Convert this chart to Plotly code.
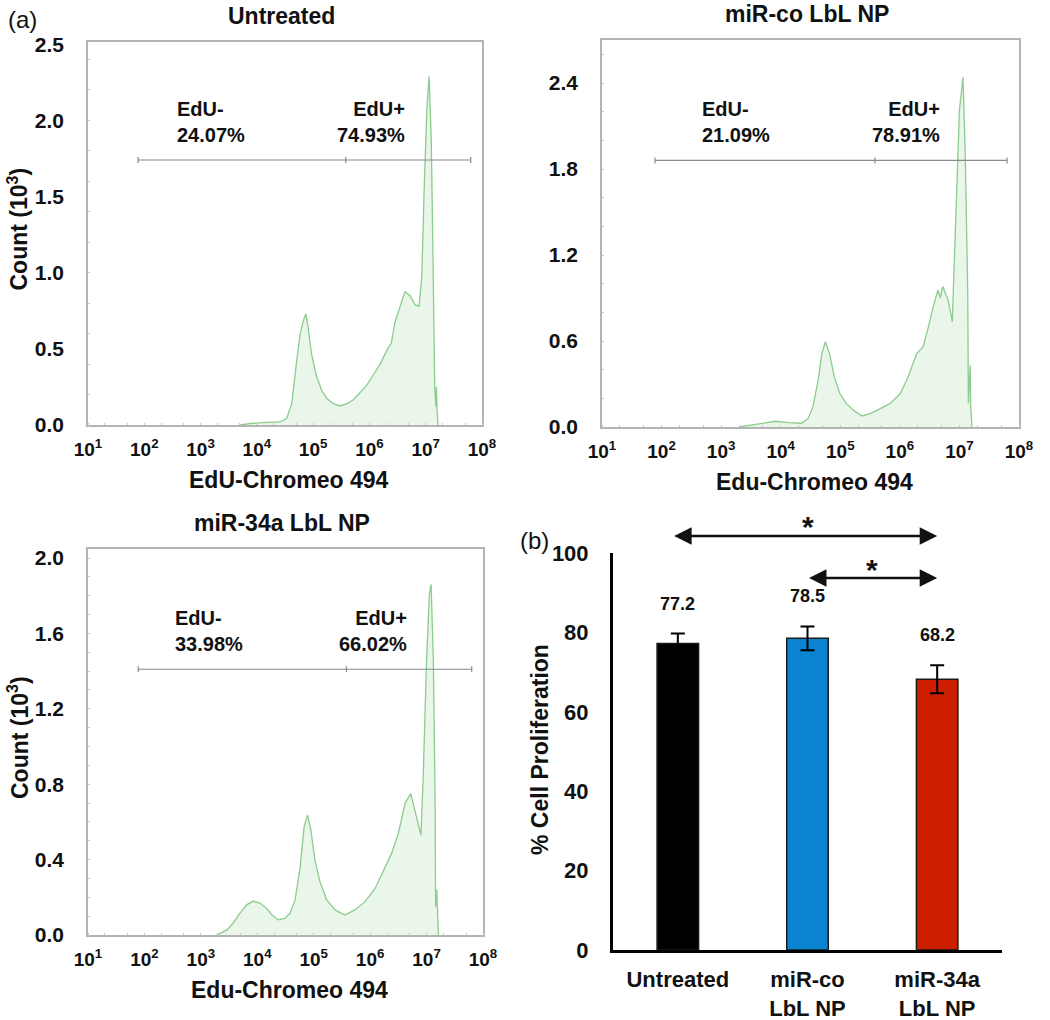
import plotly.graph_objects as go

# ---------------- data ----------------
# Histogram panels: x = log10(EdU-Chromeo 494 intensity), y = count (10^3)
untreated_log = [3.70, 3.90, 4.10, 4.30, 4.41, 4.53, 4.62, 4.71, 4.77, 4.83, 4.87, 4.91, 4.97,
                 5.06, 5.15, 5.24, 5.36, 5.48, 5.60, 5.71, 5.83, 5.95, 6.07, 6.19, 6.31, 6.39,
                 6.45, 6.54, 6.63, 6.72, 6.81, 6.88, 6.93, 6.97, 7.02, 7.06, 7.10, 7.13, 7.16,
                 7.18, 7.19, 7.20, 7.22]
untreated_cnt = [0.0, 0.01, 0.015, 0.02, 0.02, 0.044, 0.14, 0.43, 0.60, 0.69, 0.73, 0.645, 0.47,
                 0.32, 0.23, 0.175, 0.14, 0.125, 0.14, 0.164, 0.21, 0.26, 0.33, 0.40, 0.49, 0.54,
                 0.67, 0.78, 0.875, 0.85, 0.79, 0.78, 0.97, 1.52, 2.07, 2.29, 1.85, 1.08, 0.25,
                 0.12, 0.25, 0.10, 0.0]

mirco_log = [3.30, 3.52, 3.69, 3.91, 4.13, 4.35, 4.46, 4.54, 4.63, 4.69, 4.75, 4.82, 4.90, 4.99,
             5.10, 5.23, 5.37, 5.51, 5.68, 5.84, 6.01, 6.14, 6.28, 6.39, 6.48, 6.56, 6.64, 6.68,
             6.72, 6.81, 6.88, 6.94, 7.00, 7.06, 7.10, 7.14, 7.15, 7.18, 7.19, 7.21]
mirco_cnt = [0.0, 0.015, 0.03, 0.04, 0.03, 0.026, 0.06, 0.14, 0.33, 0.51, 0.595, 0.51, 0.35, 0.235,
             0.165, 0.114, 0.077, 0.095, 0.13, 0.165, 0.235, 0.35, 0.51, 0.56, 0.70, 0.84, 0.956,
             0.90, 0.98, 0.886, 0.735, 1.51, 2.21, 2.44, 1.86, 0.93, 0.165, 0.43, 0.15, 0.0]

mir34a_log = [3.28, 3.46, 3.57, 3.69, 3.81, 3.93, 4.05, 4.17, 4.26, 4.37, 4.49, 4.58, 4.67, 4.76,
              4.83, 4.89, 4.95, 5.02, 5.11, 5.23, 5.38, 5.55, 5.73, 5.91, 6.09, 6.23, 6.38, 6.50,
              6.62, 6.72, 6.82, 6.90, 6.94, 7.00, 7.05, 7.08, 7.12, 7.15, 7.16, 7.18, 7.21]
mir34a_cnt = [0.0, 0.027, 0.062, 0.115, 0.16, 0.18, 0.168, 0.14, 0.106, 0.08, 0.088, 0.115, 0.186,
              0.36, 0.575, 0.636, 0.557, 0.40, 0.283, 0.186, 0.133, 0.106, 0.133, 0.177, 0.248,
              0.336, 0.433, 0.54, 0.70, 0.75, 0.63, 0.53, 0.84, 1.46, 1.81, 1.86, 1.46, 0.75,
              0.15, 0.24, 0.0]

panel_titles = ["Untreated", "miR-co LbL NP", "miR-34a LbL NP"]
panel_xtitles = ["EdU-Chromeo 494", "Edu-Chromeo 494", "Edu-Chromeo 494"]
edu_neg = ["24.07%", "21.09%", "33.98%"]
edu_pos = ["74.93%", "78.91%", "66.02%"]
gate_y = [1.74, 1.86, 1.41]
gate_x = [1.89, 5.58, 7.80]           # log10 positions: left end, split, right end
label_neg_x = [2.55, 2.65, 2.51]
label_pos_x = [6.67, 6.70, 6.69]
y_ranges = [2.515, 2.70, 2.048]
y_tickvals = [[0, 0.5, 1.0, 1.5, 2.0, 2.5],
              [0, 0.6, 1.2, 1.8, 2.4],
              [0, 0.4, 0.8, 1.2, 1.6, 2.0]]
x_exponents = [1, 2, 3, 4, 5, 6, 7, 8]

# Bar panel
groups = ["Untreated", "miR-co<br>LbL NP", "miR-34a<br>LbL NP"]
proliferation = [77.2, 78.5, 68.2]
prolif_err = [2.5, 3.0, 3.5]
bar_colors = ["#000000", "#0a84d0", "#cc1f00"]
comparisons = [(0, 2, 104.3), (1, 2, 93.7)]   # (from group, to group, height)
bar_y_max = 100

# ---------------- figure ----------------
FONT = "Liberation Sans, Arial, sans-serif"
W, H = 1050, 1020
GREEN = "#8ccc8c"
FILL = "rgba(140,204,140,0.18)"
FRAME = "#b4b4b4"
TXT = "#111111"


def px_x(p):
    return p / W


def px_y(p):
    return 1 - p / H


fig = go.Figure()

hist_data = [(untreated_log, untreated_cnt), (mirco_log, mirco_cnt), (mir34a_log, mir34a_cnt)]
domains = [
    ([88, 482], [42, 425]),
    ([602, 1019], [40, 427]),
    ([88, 483], [549, 935]),
]

annotations = []
shapes = []

for i, ((lx, cy), (dx, dy)) in enumerate(zip(hist_data, domains)):
    n = i + 1
    xa = "x" if n == 1 else f"x{n}"
    ya = "y" if n == 1 else f"y{n}"
    fig.add_trace(go.Scatter(
        x=[10 ** v for v in lx], y=cy, mode="lines",
        line=dict(color=GREEN, width=1.3), fill="tozeroy", fillcolor=FILL,
        xaxis=xa, yaxis=ya, showlegend=False, hoverinfo="skip"))
    xkey = "xaxis" if n == 1 else f"xaxis{n}"
    ykey = "yaxis" if n == 1 else f"yaxis{n}"
    fig.layout[xkey] = dict(
        domain=[px_x(dx[0]), px_x(dx[1])], anchor=ya, type="log", range=[1, 8],
        tickvals=[10 ** e for e in x_exponents],
        ticktext=[f"<b>10<sup>{e}</sup></b>" for e in x_exponents],
        tickfont=dict(family=FONT, size=19, color=TXT),
        ticks="", ticklabelstandoff=6, automargin=False,
        showline=True, mirror=True, linecolor=FRAME, linewidth=1.5,
        showgrid=False, zeroline=False,
        minor=dict(ticks="inside", ticklen=2, tickcolor="#c8c8c8", showgrid=False))
    fig.layout[ykey] = dict(
        domain=[px_y(dy[1]), px_y(dy[0])], anchor=xa, range=[0, y_ranges[i]],
        tickvals=y_tickvals[i], ticktext=[f"<b>{v:.1f}</b>" for v in y_tickvals[i]],
        tickfont=dict(family=FONT, size=21, color=TXT),
        ticks="", ticklabelstandoff=18, automargin=False,
        showline=True, mirror=True, linecolor=FRAME, linewidth=1.5,
        showgrid=False, zeroline=False,
        minor=dict(ticks="inside", ticklen=2, tickcolor="#c8c8c8", showgrid=False))

    # gate line with small ticks
    gy = gate_y[i]
    shapes.append(dict(type="line", xref=xa, yref=ya, x0=10 ** gate_x[0], x1=10 ** gate_x[2],
                       y0=gy, y1=gy, line=dict(color="#8a8a8a", width=1.2)))
    for gx in gate_x:
        shapes.append(dict(type="line", xref=xa, yref=ya, x0=10 ** gx, x1=10 ** gx,
                           ysizemode="pixel", yanchor=gy, y0=-3, y1=3,
                           line=dict(color="#8a8a8a", width=1.2)))
    annotations.append(dict(xref=xa, yref=ya, x=label_neg_x[i], y=gy,
                            text=f"<b>EdU-<br>{edu_neg[i]}</b>", showarrow=False,
                            xanchor="left", yanchor="bottom", yshift=12, align="left",
                            font=dict(family=FONT, size=20, color=TXT)))
    annotations.append(dict(xref=xa, yref=ya, x=label_pos_x[i], y=gy,
                            text=f"<b>EdU+<br>{edu_pos[i]}</b>", showarrow=False,
                            xanchor="right", yanchor="bottom", yshift=12, align="right",
                            font=dict(family=FONT, size=20, color=TXT)))
    # panel title
    annotations.append(dict(xref="paper", yref="paper",
                            x=px_x((dx[0] + dx[1]) / 2 - 4), y=px_y(dy[0] - 26),
                            text=f"<b>{panel_titles[i]}</b>", showarrow=False,
                            xanchor="center", yanchor="middle",
                            font=dict(family=FONT, size=23, color=TXT)))
    # x title
    annotations.append(dict(xref="paper", yref="paper",
                            x=px_x((dx[0] + dx[1]) / 2 + 4), y=px_y(dy[1] + 55),
                            text=f"<b>{panel_xtitles[i]}</b>", showarrow=False,
                            xanchor="center", yanchor="middle",
                            font=dict(family=FONT, size=23, color=TXT)))

# y titles for left histograms
for dy in (domains[0][1], domains[2][1]):
    annotations.append(dict(xref="paper", yref="paper", x=px_x(18), y=px_y((dy[0] + dy[1]) / 2 - 4),
                            text="<b>Count (10<sup>3</sup>)</b>", showarrow=False, textangle=-90,
                            xanchor="center", yanchor="middle",
                            font=dict(family=FONT, size=23, color=TXT)))

# ---------------- bar panel ----------------
fig.add_trace(go.Bar(
    x=groups, y=proliferation, width=0.32,
    marker=dict(color=bar_colors, line=dict(color="#1a1a1a", width=1.5)),
    error_y=dict(type="data", array=prolif_err, visible=True, color="black", thickness=2, width=7),
    xaxis="x4", yaxis="y4", showlegend=False, hoverinfo="skip"))

fig.layout["xaxis4"] = dict(
    domain=[px_x(613), px_x(1002)], anchor="y4", type="category", range=[-0.5, 2.5],
    showline=True, linecolor="black", linewidth=3, ticks="", ticklabelstandoff=8,
    automargin=False, tickvals=groups, ticktext=[f"<b>{g}</b>" for g in groups],
    tickfont=dict(family=FONT, size=22, color=TXT), showgrid=False)
ytv = [0, 20, 40, 60, 80, 100]
fig.layout["yaxis4"] = dict(
    domain=[px_y(950), px_y(553)], anchor="x4", range=[0, bar_y_max], tickvals=ytv,
    ticktext=[f"<b>{v}</b>" for v in ytv], automargin=False,
    showline=True, linecolor="black", linewidth=3, ticks="", ticklabelstandoff=17,
    tickfont=dict(family=FONT, size=22, color=TXT), showgrid=False, zeroline=False)

annotations.append(dict(xref="paper", yref="paper", x=px_x(540), y=px_y(750),
                        text="<b>% Cell Proliferation</b>", showarrow=False, textangle=-90,
                        xanchor="center", yanchor="middle",
                        font=dict(family=FONT, size=23, color=TXT)))

for g, v, e in zip(groups, proliferation, prolif_err):
    annotations.append(dict(xref="x4", yref="y4", x=g, y=v + e, text=f"<b>{v}</b>",
                            showarrow=False, yanchor="bottom", yshift=18,
                            font=dict(family=FONT, size=18, color=TXT)))

for a, b, h in comparisons:
    start = a - 0.04 if a == 0 else a
    annotations.append(dict(xref="x4", yref="y4 domain", axref="x4", ayref="pixel",
                            x=b, y=h / bar_y_max, ax=start, ay=0, text="",
                            showarrow=True, arrowhead=2, arrowside="end+start",
                            arrowsize=1.4, arrowwidth=2.5, arrowcolor=TXT,
                            standoff=0, startstandoff=0))
    annotations.append(dict(xref="x4", yref="y4 domain", x=(a + b) / 2, y=h / bar_y_max,
                            text="<b>*</b>", showarrow=False, yanchor="middle", yshift=9,
                            font=dict(family=FONT, size=30, color=TXT)))

# panel letters
annotations.append(dict(xref="paper", yref="paper", x=px_x(22), y=px_y(19), text="(a)",
                        showarrow=False, xanchor="center", yanchor="middle",
                        font=dict(family=FONT, size=24, color=TXT)))
annotations.append(dict(xref="paper", yref="paper", x=px_x(534), y=px_y(540), text="(b)",
                        showarrow=False, xanchor="center", yanchor="middle",
                        font=dict(family=FONT, size=24, color=TXT)))

fig.update_layout(
    width=W, height=H, margin=dict(l=0, r=0, t=0, b=0, autoexpand=False),
    paper_bgcolor="white", plot_bgcolor="white",
    annotations=annotations, shapes=shapes,
    font=dict(family=FONT, color=TXT))

fig.write_html("out.html", config={"displayModeBar": False},
               post_script="document.body.style.margin='0px';document.body.style.padding='0px';")
